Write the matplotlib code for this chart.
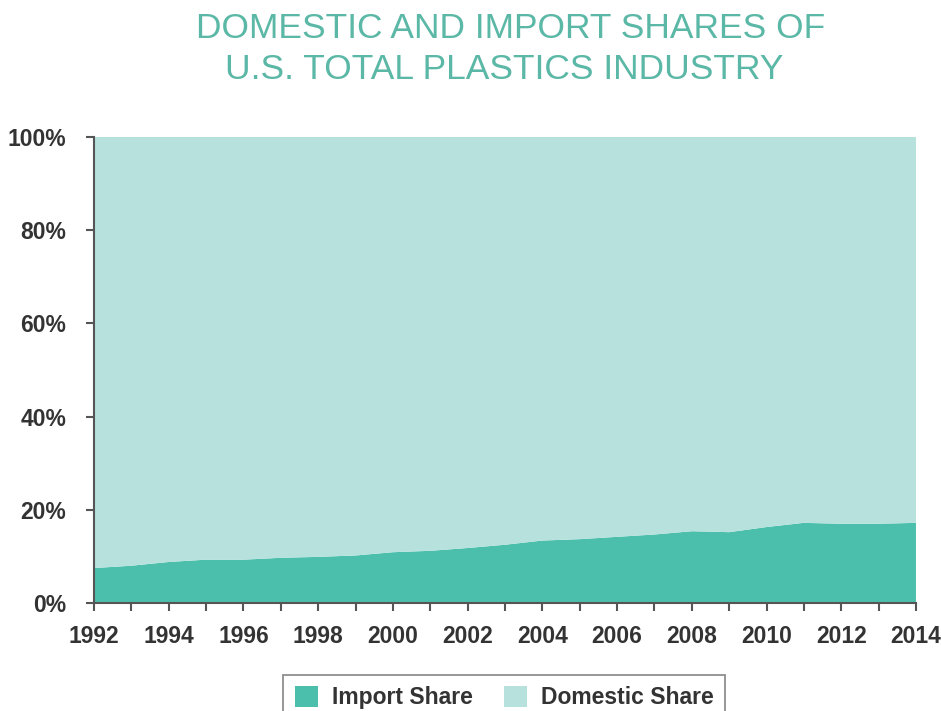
import matplotlib
matplotlib.use("Agg")
import numpy as np
from matplotlib import pyplot as plt
from matplotlib.ticker import MultipleLocator, FuncFormatter

years = list(range(1992, 2015))
importShare = [7.5, 8.0, 8.8, 9.3, 9.3, 9.7, 9.9, 10.2, 10.9, 11.2, 11.8, 12.5,
               13.4, 13.7, 14.2, 14.7, 15.4, 15.2, 16.3, 17.2, 17.0, 17.0, 17.2]
domesticShare = [100 - v for v in importShare]
seriesNames = ["Import Share", "Domestic Share"]
yTicks = [0, 20, 40, 60, 80, 100]
xTickYears = list(range(1992, 2015, 2))

importColor = "#4bbfab"
domesticColor = "#b7e1dc"
titleColor = "#5bb8a6"
textColor = "#333333"
labelFont = ["Liberation Sans Narrow", "Liberation Sans", "DejaVu Sans"]

fig = plt.figure(figsize=(9.41, 7.11), dpi=100)
ax = fig.add_axes([0.0999, 0.1519, 0.8735, 0.6554])

ax.stackplot(years, importShare, domesticShare, colors=[importColor, domesticColor],
             labels=seriesNames, linewidth=0)

ax.set_xlim(1992, 2014)
ax.set_ylim(0, 100)
ax.set_yticks(yTicks)
ax.yaxis.set_major_formatter(FuncFormatter(lambda v, p: f"{int(v)}%"))
ax.set_xticks(xTickYears)
ax.xaxis.set_minor_locator(MultipleLocator(1))

for side in ["top", "right"]:
    ax.spines[side].set_visible(False)
for side in ["left", "bottom"]:
    ax.spines[side].set_color("#555555")
    ax.spines[side].set_linewidth(1.5)
ax.tick_params(axis="both", which="both", color="#555555", width=1.5, length=6,
               labelcolor=textColor)
ax.tick_params(axis="y", pad=14)
ax.tick_params(axis="x", pad=10)
for lbl in ax.get_xticklabels() + ax.get_yticklabels():
    lbl.set_fontfamily(labelFont)
    lbl.set_fontweight("bold")
    lbl.set_fontsize(16.5)

fig.text(0.543, 0.960, "DOMESTIC AND IMPORT SHARES OF", ha="center", va="center",
         fontsize=25.5, color=titleColor, fontfamily=["Liberation Sans", "DejaVu Sans"])
fig.text(0.536, 0.902, "U.S. TOTAL PLASTICS INDUSTRY", ha="center", va="center",
         fontsize=25.5, color=titleColor, fontfamily=["Liberation Sans", "DejaVu Sans"])

leg = fig.legend(loc="upper center", bbox_to_anchor=(0.536, 0.051), ncol=2,
                 handlelength=1.0, handleheight=1.0, columnspacing=1.4,
                 handletextpad=0.6, fancybox=False, edgecolor="#666666",
                 borderpad=0.5, borderaxespad=0,
                 prop={"family": labelFont, "weight": "bold", "size": 16.5})
leg.get_frame().set_linewidth(1.2)
for t in leg.get_texts():
    t.set_color(textColor)

fig.savefig("out.png", dpi=100)
